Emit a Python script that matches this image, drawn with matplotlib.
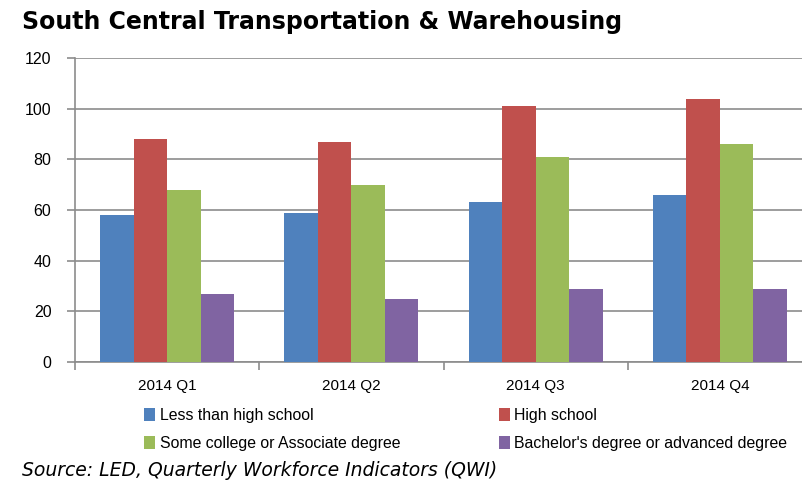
import matplotlib
matplotlib.use("Agg")
import matplotlib.pyplot as plt
import numpy as np
from matplotlib.patches import Patch

categories = ["2014 Q1", "2014 Q2", "2014 Q3", "2014 Q4"]
series_names = ["Less than high school", "High school",
                "Some college or Associate degree", "Bachelor's degree or advanced degree"]
less_hs = [58, 59, 63, 66]
high_school = [88, 87, 101, 104]
some_college = [68, 70, 81, 86]
bachelors = [27, 25, 29, 29]
colors = ["#4F81BD", "#C0504D", "#9BBB59", "#8064A2"]
yticks = [0, 20, 40, 60, 80, 100, 120]

fig = plt.figure(figsize=(8.02, 4.82), dpi=100)
# plot area extends slightly beyond the right edge, as in the reference
ax = fig.add_axes([75/802, 1-362/482, 737/802, 304/482])

x = np.arange(len(categories))
w = 0.182
data = [less_hs, high_school, some_college, bachelors]
for i, (vals, c) in enumerate(zip(data, colors)):
    ax.bar(x + (i - 1.5) * w, vals, width=w, color=c, zorder=3)

ax.set_xlim(-0.5, len(categories) - 0.5)
ax.set_ylim(0, 120)
ax.set_yticks(yticks)
ax.yaxis.grid(True, color="#8C8C8C", linewidth=1.2, zorder=0)
ax.set_xticks(x)
ax.set_xticklabels(categories, fontsize=11, family="Liberation Sans")
ax.set_xticks(np.arange(len(categories) + 1) - 0.5, minor=True)
ax.tick_params(axis="x", which="major", length=0, pad=12)
ax.tick_params(axis="x", which="minor", length=6, color="#8C8C8C", width=1.2)
ax.tick_params(axis="y", length=6, color="#8C8C8C", width=1.2, labelsize=11.5, pad=11)
for lab in ax.get_yticklabels():
    lab.set_family("Liberation Sans")
for s in ["top", "right"]:
    ax.spines[s].set_visible(False)
for s in ["left", "bottom"]:
    ax.spines[s].set_color("#8C8C8C")
    ax.spines[s].set_linewidth(1.2)

# legend filled row-wise: reorder for matplotlib's column-major fill
order = [0, 2, 1, 3]
handles = [Patch(facecolor=colors[i]) for i in order]
labels = [series_names[i] for i in order]
leg = fig.legend(handles, labels, loc="upper left", bbox_to_anchor=(144/802, 1-408/482),
                 ncol=2, frameon=False, prop={"family": "Liberation Sans", "size": 11.4},
                 handlelength=0.7, handleheight=0.8, handletextpad=0.3,
                 columnspacing=6.2, labelspacing=0.82, borderpad=0, borderaxespad=0)

fig.text(22/802, 1-22/482, "South Central Transportation & Warehousing", fontsize=17,
         fontweight="bold", va="center", ha="left", family="DejaVu Sans")
fig.text(22/802, 1-470/482, "Source: LED, Quarterly Workforce Indicators (QWI)", fontsize=13.5,
         style="italic", va="center", ha="left", family="DejaVu Sans")

fig.savefig("out.png", dpi=100)
